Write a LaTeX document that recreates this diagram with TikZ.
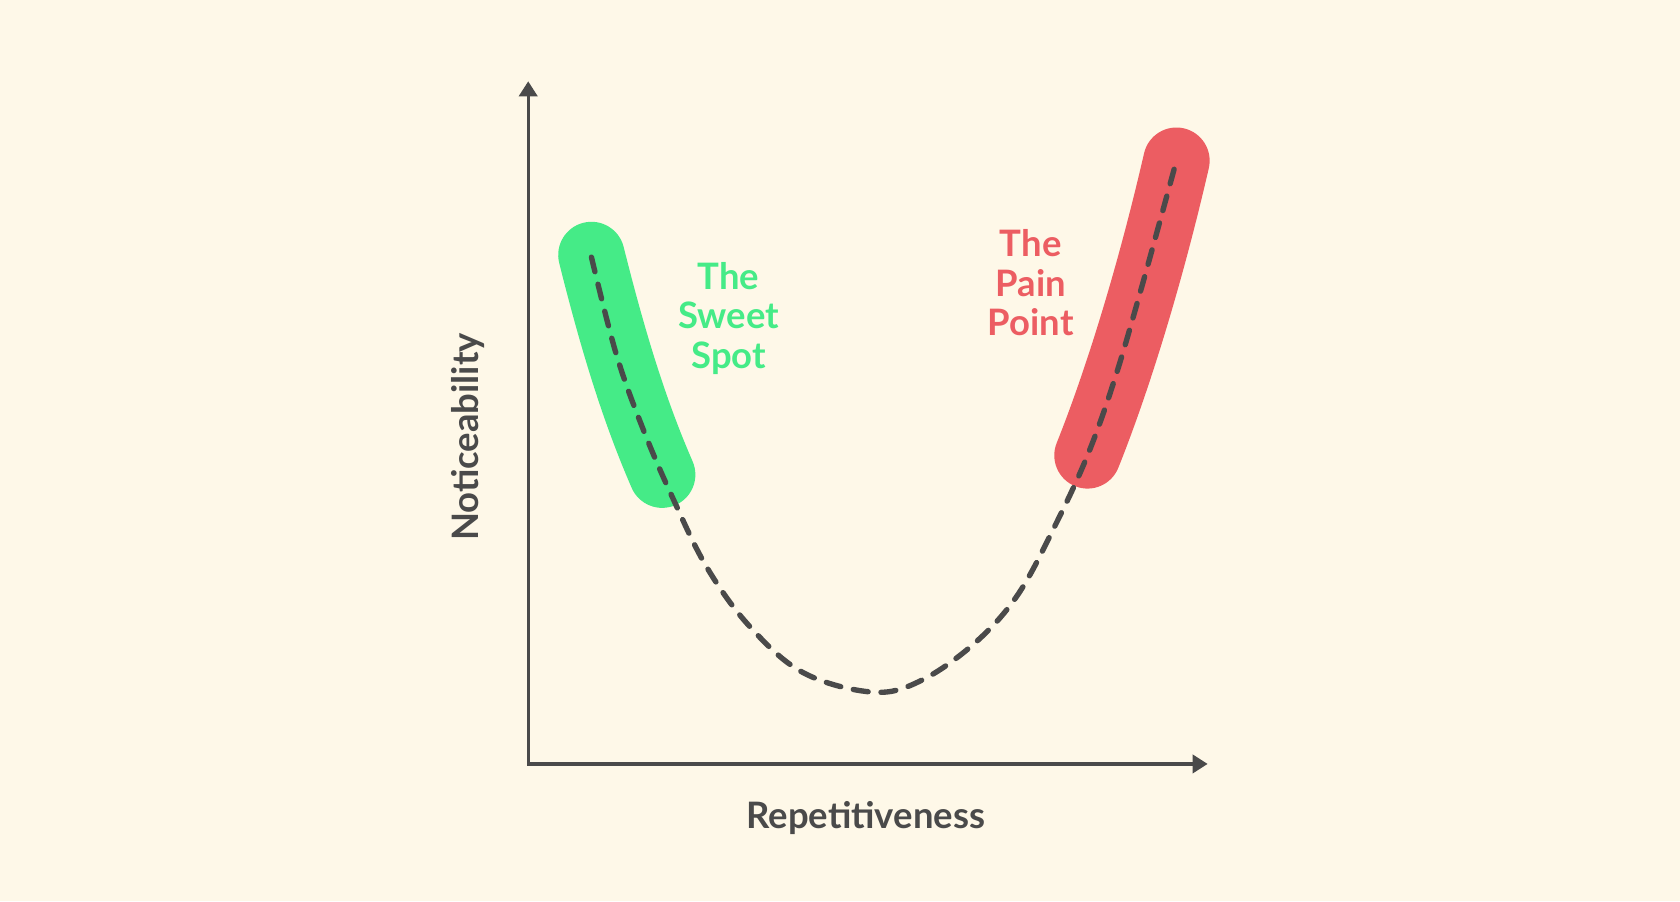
\documentclass[tikz,border=0pt]{standalone}
\usepackage{fontspec}
\setmainfont{Lato}
\definecolor{bg}{HTML}{FEF8E8}
\definecolor{ax}{HTML}{4A4A4A}
\definecolor{gr}{HTML}{45EB87}
\definecolor{rd}{HTML}{EC5D62}
\begin{document}
\begin{tikzpicture}[x=0.5pt,y=-0.5pt,
  axis/.style={draw=ax,line width=1.5pt},
  band/.style={line width=31pt,line cap=round},
  lbl/.style={font=\fontsize{17}{18.5}\selectfont\bfseries,align=center},
  axlbl/.style={font=\fontsize{17}{20}\selectfont\bfseries,text=ax}]
\fill[bg] (0,0) rectangle (1568,841);
\useasboundingbox (0,0) rectangle (1568,841);
\coordinate (o) at (493,713);
\coordinate (yt) at (493,90);
\coordinate (xt) at (1113,713);
\draw[axis] (yt) -- (o) -- (xt);
\fill[ax] (484,90) -- (502,90) -- (493,76) -- cycle;
\fill[ax] (1113,704) -- (1113,722) -- (1127,713) -- cycle;
\node[axlbl,rotate=90] (ylab) at (437,408) {Noticeability};
\node[axlbl] (xlab) at (808,763) {Repetitiveness};
\draw[band,gr] (552,238) .. controls (575,330) and (595,390) .. (618,443);
\draw[band,rd] (1015,425) .. controls (1045,350) and (1075,250) .. (1098,150);
\draw[ax,line width=2.5pt,dash pattern=on 7pt off 6pt,line cap=round]
 plot[smooth,tension=0.6] coordinates {(552,240) (575,330) (600,400) (628,465) (660,530) (700,585) (750,628) (815,646) (860,635) (910,600) (950,555) (985,490) (1015,425) (1040,355) (1065,270) (1098,150)};
\node[lbl,text=gr] (sweet) at (680,297) {The\\Sweet\\Spot};
\node[lbl,text=rd] (pain) at (962,264) {The\\Pain\\Point};
\end{tikzpicture}
\end{document}
